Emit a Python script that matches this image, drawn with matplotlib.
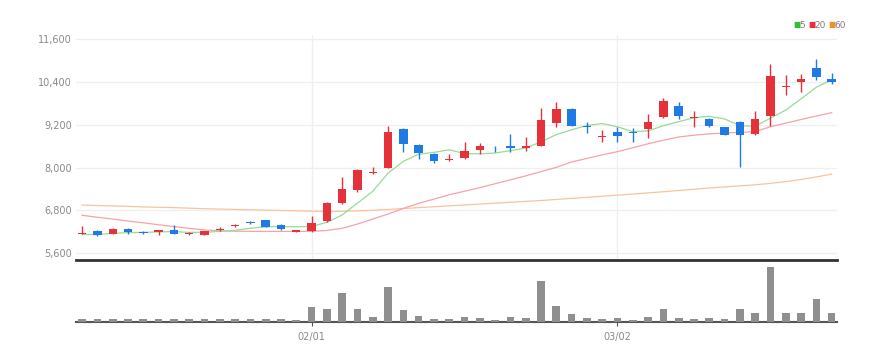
import matplotlib
matplotlib.use('Agg')
import matplotlib.pyplot as plt
import numpy as np
import pandas as pd

# daily candles (50 trading days), prices in won
opens = [6150, 6230, 6140, 6290, 6190, 6190, 6260, 6130, 6110, 6250,
         6360, 6470, 6520, 6400, 6210, 6230, 6510, 7020, 7380, 7850,
         8000, 9080, 8650, 8380, 8220, 8260, 8500, 8530, 8620, 8560,
         8620, 9250, 9650, 9170, 8860, 9010, 8990, 9080, 9410, 9730,
         9390, 9370, 9130, 9290, 8950, 9460, 10250, 10410, 10790, 10500]
highs = [6370, 6240, 6300, 6300, 6220, 6260, 6385, 6190, 6230, 6330,
         6430, 6510, 6530, 6410, 6260, 6650, 7040, 7750, 7960, 8010,
         9170, 9110, 8660, 8420, 8380, 8730, 8684, 8610, 8945, 8860,
         9670, 9830, 9660, 9290, 9070, 9130, 9120, 9506, 9950, 9850,
         9580, 9380, 9140, 9300, 9600, 10910, 10600, 10630, 11040, 10650]
lows = [6140, 6090, 6130, 6140, 6130, 6120, 6140, 6110, 6100, 6230,
        6340, 6420, 6340, 6240, 6190, 6210, 6480, 6990, 7320, 7820,
        7990, 8440, 8240, 8140, 8180, 8250, 8376, 8440, 8432, 8480,
        8600, 9150, 9160, 8965, 8730, 8712, 8720, 8825, 9380, 9357,
        9150, 9130, 8910, 8030, 8930, 9170, 10040, 10130, 10460, 10350]
closes = [6180, 6100, 6290, 6190, 6170, 6250, 6150, 6160, 6220, 6290,
          6400, 6440, 6350, 6280, 6240, 6460, 7000, 7400, 7940, 7890,
          9000, 8660, 8400, 8200, 8250, 8470, 8620, 8510, 8540, 8610,
          9340, 9640, 9180, 9140, 8890, 8880, 8970, 9280, 9870, 9450,
          9430, 9170, 8920, 8920, 9360, 10580, 10290, 10500, 10550, 10390]
prev_closes = [6120, 6100, 6110, 6130]  # last closes before the window, for MA5

ma20 = [6665, 6610, 6560, 6505, 6455, 6400, 6350, 6300, 6255, 6230,
        6220, 6215, 6215, 6215, 6215, 6215, 6240, 6300, 6420, 6560,
        6700, 6860, 7000, 7120, 7240, 7340, 7440, 7550, 7660, 7770,
        7890, 8010, 8160, 8260, 8360, 8450, 8560, 8670, 8770, 8860,
        8910, 8950, 8970, 8990, 9010, 9150, 9250, 9350, 9450, 9540]
ma60 = [6950, 6940, 6930, 6915, 6900, 6890, 6880, 6865, 6850, 6840,
        6830, 6820, 6810, 6800, 6790, 6780, 6775, 6775, 6790, 6805,
        6830, 6855, 6880, 6905, 6930, 6955, 6980, 7005, 7030, 7055,
        7080, 7110, 7140, 7170, 7200, 7230, 7260, 7295, 7325, 7360,
        7395, 7430, 7460, 7490, 7520, 7560, 7610, 7670, 7740, 7820]

volume = [30, 25, 25, 25, 30, 25, 25, 25, 25, 25,
          30, 30, 25, 25, 15, 143, 127, 287, 127, 53,
          340, 120, 57, 27, 27, 53, 40, 20, 53, 40,
          403, 160, 80, 40, 27, 40, 20, 53, 127, 43,
          27, 43, 27, 127, 93, 537, 87, 87, 223, 93]

tick_pos = [15, 35]
tick_labels = ['02/01', '03/02']

plt.rcParams['font.family'] = ['Liberation Sans Narrow', 'DejaVu Sans']

up_col = '#e5323a'
down_col = '#1f7be3'

fig = plt.figure(figsize=(8.89, 3.61), dpi=100)
ax = fig.add_axes([76/889, 1-260/361, 761/889, 225/361])
axv = fig.add_axes([76/889, 1-322/361, 761/889, 58/361])

x = np.arange(len(closes))
o = np.array(opens); c = np.array(closes)
h = np.array(highs); l = np.array(lows)
cols = [up_col if cc >= oo else down_col for oo, cc in zip(o, c)]

ma5 = pd.Series(prev_closes + closes).rolling(5).mean().values[len(prev_closes):]

ax.plot(x, ma60, color='#f9c49c', lw=0.9, zorder=2)
ax.plot(x, ma20, color='#f4a3a6', lw=0.9, zorder=2)
ax.plot(x, ma5, color='#95dc95', lw=0.9, zorder=2)

ax.vlines(x, l, h, colors=cols, lw=1.0, zorder=3)
body_bottom = np.minimum(o, c)
body_h = np.maximum(np.abs(c - o), 20)
ax.bar(x, body_h, bottom=body_bottom, width=0.55, color=cols, zorder=4)

ax.set_xlim(-0.4, 49.35)
ax.set_ylim(5412, 11720)
ax.set_yticks([5600, 6800, 8000, 9200, 10400, 11600])
ax.set_yticklabels(['5,600', '6,800', '8,000', '9,200', '10,400', '11,600'])
ax.set_xticks(tick_pos)
ax.set_xticklabels([])
ax.tick_params(axis='x', length=0)
ax.tick_params(axis='y', length=0, labelsize=7, labelcolor='#8a8a8a', pad=3)
ax.grid(True, color='#efefef', lw=0.9)
for s in ['left', 'right', 'top']:
    ax.spines[s].set_visible(False)
ax.spines['bottom'].set_color('#333333')
ax.spines['bottom'].set_linewidth(2)

axv.bar(x, volume, width=0.5, color='#8f8f8f', zorder=3)
axv.set_xlim(-0.4, 49.35)
axv.set_ylim(0, max(volume) * 1.06)
axv.set_yticks([])
axv.set_xticks(tick_pos)
axv.set_xticklabels(tick_labels)
axv.tick_params(axis='x', length=3, color='#555555', labelsize=7,
                labelcolor='#8a8a8a', pad=4)
for s in ['left', 'right', 'top']:
    axv.spines[s].set_visible(False)
axv.spines['bottom'].set_color('#555555')
axv.spines['bottom'].set_linewidth(1.5)

# legend in the top right corner
leg = [('5', '#2fbf2f'), ('20', '#e5323a'), ('60', '#f0902c')]
lx = 793
for lab, col in leg:
    fig.text(lx/889, 1-25/361, '■', color=col, fontsize=5.5,
             family='DejaVu Sans', va='center')
    fig.text((lx + 6)/889, 1-25/361, lab, color='#808080', fontsize=6.5, va='center')
    lx += 6 + 5 * len(lab) + 4

fig.savefig('out.png', dpi=100)
